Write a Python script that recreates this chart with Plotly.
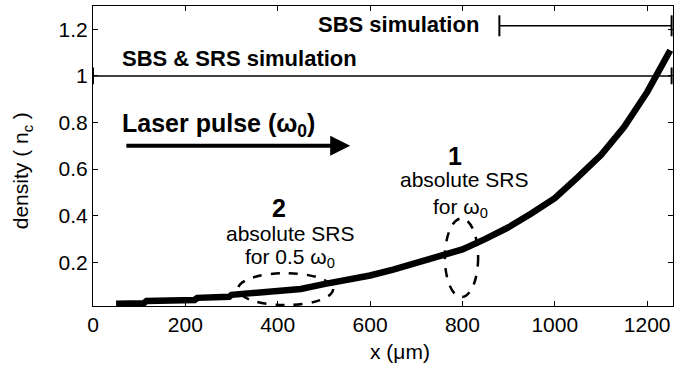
import plotly.graph_objects as go

# ---- data ----
x_um = [50, 110, 116, 220, 226, 295, 300, 350, 400, 450, 500, 550, 600, 650, 700,
        750, 800, 850, 900, 950, 1000, 1050, 1100, 1150, 1200, 1250]
density = [0.022, 0.024, 0.034, 0.038, 0.047, 0.052, 0.060, 0.068, 0.076, 0.085,
           0.106, 0.124, 0.143, 0.168, 0.195, 0.222, 0.255, 0.300, 0.350, 0.410,
           0.475, 0.565, 0.660, 0.780, 0.930, 1.110]

x_ticks = [0, 200, 400, 600, 800, 1000, 1200]
x_tick_labels = ["0", "200", "400", "600", "800", "1000", "1200"]
y_ticks = [0.2, 0.4, 0.6, 0.8, 1.0, 1.2]
y_tick_labels = ["0.2", "0.4", "0.6", "0.8", "1", "1.2"]

# simulation extent bars: (x start, x end, level)
sbs_srs_x = [0, 1253]
sbs_srs_y = [1.0, 1.0]
sbs_x = [880, 1253]
sbs_y = [1.215, 1.215]

# dashed ellipses marking absolute SRS regions: [x0, x1, y0, y1]
ellipse1 = [762, 834, 0.05, 0.388]
ellipse2 = [314, 520, 0.016, 0.153]

# laser pulse arrow: tail x, head x, level
arrow_x = [69, 557]
arrow_y = 0.70

FONT = "Liberation Sans, Arial, sans-serif"

fig = go.Figure()

fig.add_trace(go.Scatter(x=x_um, y=density, mode="lines",
                         line=dict(color="black", width=6.5), showlegend=False,
                         hoverinfo="skip"))

for xs, ys, cap in [(sbs_srs_x, sbs_srs_y, 12), (sbs_x, sbs_y, 15)]:
    fig.add_trace(go.Scatter(x=xs, y=ys, mode="lines+markers",
                             line=dict(color="black", width=1.5),
                             marker=dict(symbol="line-ns", size=cap,
                                         line=dict(color="black", width=2)),
                             cliponaxis=False, showlegend=False, hoverinfo="skip"))

for e in (ellipse1, ellipse2):
    fig.add_shape(type="circle", xref="x", yref="y", x0=e[0], x1=e[1], y0=e[2], y1=e[3],
                  line=dict(color="black", width=2.5, dash="dash"))

ann = []
def txt(x, y, s, size, xanchor="center"):
    ann.append(dict(x=x, y=y, xref="x", yref="y", text=s, showarrow=False,
                    xanchor=xanchor, yanchor="middle",
                    font=dict(family=FONT, size=size, color="black")))

txt(58, 1.074, "<b>SBS &amp; SRS simulation</b>", 22, "left")
txt(840, 1.22, "<b>SBS simulation</b>", 22, "right")
txt(58, 0.79, "<b>Laser pulse (ω<sub>0</sub>)</b>", 25, "left")
txt(784, 0.658, "<b>1</b>", 25)
txt(803, 0.553, "absolute SRS", 21)
txt(796, 0.432, "for ω<sub>0</sub>", 21)
txt(403, 0.433, "<b>2</b>", 25)
txt(427, 0.322, "absolute SRS", 21)
txt(427, 0.217, "for 0.5 ω<sub>0</sub>", 21)

ann.append(dict(x=arrow_x[1], y=arrow_y, ax=arrow_x[0], ay=arrow_y, xref="x", yref="y",
                axref="x", ayref="y", showarrow=True, arrowhead=2, arrowsize=1,
                arrowwidth=4, arrowcolor="black", text=""))

# axis titles
ann.append(dict(x=0.53, y=-0.15, xref="paper", yref="paper", text="x (μm)",
                showarrow=False, xanchor="center", yanchor="middle",
                font=dict(family=FONT, size=21, color="black")))
ann.append(dict(x=-0.122, y=0.45, xref="paper", yref="paper", text="density ( n<sub>c</sub> )",
                showarrow=False, xanchor="center", yanchor="middle", textangle=-90,
                font=dict(family=FONT, size=21, color="black")))

fig.update_layout(
    width=675, height=367,
    margin=dict(l=93, r=2, t=6, b=61),
    paper_bgcolor="white", plot_bgcolor="white",
    font=dict(family=FONT, size=21, color="black"),
    annotations=ann,
    showlegend=False,
)
fig.update_xaxes(range=[0, 1256], tickvals=x_ticks, ticktext=x_tick_labels,
                 ticks="inside", ticklen=5, tickcolor="black", tickwidth=1,
                 showline=True, linecolor="black", linewidth=1.2, mirror="ticks",
                 showgrid=False, zeroline=False, tickfont=dict(size=21))
fig.update_yaxes(range=[0.012, 1.3], tickvals=y_ticks, ticktext=y_tick_labels,
                 ticks="inside", ticklen=5, tickcolor="black", tickwidth=1,
                 showline=True, linecolor="black", linewidth=1.2, mirror="ticks",
                 showgrid=False, zeroline=False, tickfont=dict(size=21))

fig.write_html("out.html")
